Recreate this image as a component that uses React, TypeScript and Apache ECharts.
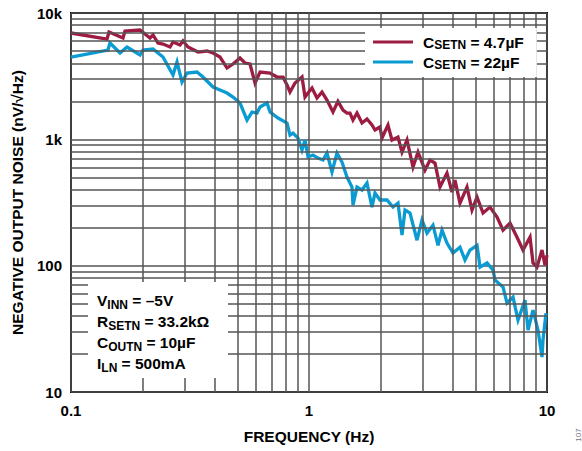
import React, { useEffect, useRef } from "react";
import * as echarts from "echarts";

// Frequency (Hz) and noise (nV/√Hz)
const redFreq = [
  0.1, 0.1417, 0.1444, 0.1654, 0.1686, 0.195, 0.2147, 0.2211, 0.232, 0.2435,
  0.2606, 0.2683, 0.2871, 0.2955, 0.3101, 0.3417, 0.3727, 0.3951, 0.4227, 0.4524,
  0.4794, 0.513, 0.5384, 0.5651, 0.5932, 0.6227, 0.6859, 0.7339, 0.7779, 0.8084,
  0.8322, 0.8735, 0.9346, 0.9621, 0.9904, 1.0294, 1.0804, 1.1339, 1.1901, 1.2612,
  1.3235, 1.3894, 1.4442, 1.4867, 1.5305, 1.5909, 1.6696, 1.7524, 1.8392, 1.8933,
  1.9872, 2.026, 2.1473, 2.232, 2.3653, 2.4591, 2.5809, 2.7353, 2.8711, 3.0721,
  3.2241, 3.3838, 3.5514, 3.7996, 3.9878, 4.1053, 4.3092, 4.6112, 4.8397, 5.0816,
  5.3852, 5.7624, 6.1663, 6.5348, 6.9923, 7.4823, 7.9296, 8.4854, 8.7352, 9.0782,
  9.5282, 9.8084, 10,
];
const redNoise = [
  6945, 6225, 7073, 6340, 7203, 7335, 6340, 6697, 5787, 5682,
  5380, 5895, 5580, 6003, 5380, 4911, 5001, 4823, 4484, 3668,
  3946, 4403, 4019, 3950, 2791, 3410, 3349, 3113, 3113, 2691,
  2369, 2791, 3113, 2162, 2326, 2548, 2123, 2369, 2047, 1645,
  2000, 1706, 1615, 1615, 1421, 1615, 1346, 1450, 1298, 1185,
  1252, 1024, 1298, 987, 1043, 793, 987, 604, 793, 571,
  686, 649, 419, 541, 383, 476, 313, 419, 276, 349,
  261, 291, 243, 191, 217, 168, 133, 168, 105, 97.5,
  133, 101, 121,
];

const blueFreq = [
  0.1, 0.143, 0.1458, 0.1607, 0.1719, 0.195, 0.2007, 0.2211, 0.2435, 0.2683,
  0.2789, 0.2927, 0.3072, 0.3383, 0.3585, 0.3951, 0.4227, 0.4524, 0.4794, 0.513,
  0.5489, 0.5762, 0.6048, 0.6227, 0.6663, 0.6859, 0.741, 0.8084, 0.8322, 0.8567,
  0.8992, 0.9346, 0.9621, 0.9904, 1.0394, 1.0909, 1.1449, 1.1901, 1.2491, 1.3107,
  1.3759, 1.4442, 1.5158, 1.5305, 1.5909, 1.6696, 1.7524, 1.8392, 1.8933, 1.9872,
  2.1266, 2.2536, 2.3653, 2.4591, 2.5314, 2.6571, 2.8434, 2.9842, 3.1321, 3.3189,
  3.4834, 3.6209, 3.7996, 4.0266, 4.3092, 4.5228, 4.7469, 5.0816, 5.2311, 5.5976,
  5.932, 6.048, 6.5348, 6.7924, 7.1982, 7.5551, 8.0846, 8.3227, 8.7352, 9.1665,
  9.5282, 9.6207, 9.9037,
];
const blueNoise = [
  4484, 5093, 5787, 4823, 5380, 4650, 5093, 5188, 4484, 3229,
  4093, 2842, 3349, 3410, 3113, 2595, 2457, 2326, 2162, 1938,
  1421, 1645, 1615, 1802, 1938, 1645, 1474, 1346, 1081, 1122,
  1024, 823, 987, 724, 751, 711, 686, 779, 551, 779,
  661, 503, 419, 302, 419, 397, 451, 291, 376, 331,
  331, 291, 313, 175, 276, 261, 159, 230, 181, 209,
  145, 191, 151, 126, 140, 111, 133, 145, 97.5, 105,
  92.3, 76.9, 67.7, 50.6, 56.4, 37.1, 53.4, 30.9, 44.5, 30.9,
  18.9, 25.8, 42.1,
];

const minorFreqTicks = [0.2, 0.3, 0.4, 0.5, 0.6, 0.7, 0.8, 0.9, 2, 3, 4, 5, 6, 7, 8, 9];
const minorNoiseTicks = [
  20, 30, 40, 50, 60, 70, 80, 90,
  200, 300, 400, 500, 600, 700, 800, 900,
  2000, 3000, 4000, 5000, 6000, 7000, 8000, 9000,
];

const seriesNames = ["CSETN = 4.7µF", "CSETN = 22µF"];
const legendRich = [
  "{g|C}{s|SETN}{a| = 4.7µF}",
  "{g|C}{s|SETN}{a| = 22µF}",
];
const conditionLines = [
  "{a|V}{s|INN}{a| = –5V}",
  "{a|R}{s|SETN}{a| = 33.2kΩ}",
  "{a|C}{s|OUTN}{a| = 10µF}",
  "{a|I}{s|LN}{a| = 500mA}",
];

const FONT = "'Liberation Sans', Arial, Helvetica, sans-serif";
const RED = "#9d1c42";
const BLUE = "#0b9bd3";
const GRID = "#555555";

export default function App() {
  const ref = useRef<HTMLDivElement>(null);
  useEffect(() => {
    document.body.style.margin = "0";
    const chart = echarts.init(ref.current!, null, { renderer: "svg" });
    const zip = (a: number[], b: number[]) => a.map((v, i) => [v, b[i]]);
    const richMain = { fontSize: 15.5, fontWeight: "bold", fontFamily: FONT, color: "#000", lineHeight: 21 };
    const richSub = { fontSize: 12, fontWeight: "bold", fontFamily: FONT, color: "#000", lineHeight: 11, verticalAlign: "bottom" };
    chart.setOption({
      animation: false,
      grid: {
        left: 71, right: 35, top: 13, bottom: 59,
        show: true, borderColor: "#000", borderWidth: 2, backgroundColor: "#fff",
      },
      xAxis: {
        type: "log", logBase: 10, min: 0.1, max: 10,
        name: "FREQUENCY (Hz)", nameLocation: "middle", nameGap: 36,
        nameTextStyle: { fontSize: 15.5, fontWeight: "bold", fontFamily: FONT, color: "#000" },
        axisLine: { show: false }, axisTick: { show: false },
        axisLabel: {
          fontSize: 15, fontWeight: "bold", fontFamily: FONT, color: "#000", margin: 11,
          formatter: (v: number) => String(Number(v.toPrecision(3))),
        },
        splitLine: { show: true, lineStyle: { color: GRID, width: 1.5 } },
      },
      yAxis: {
        type: "log", logBase: 10, min: 10, max: 10000,
        name: "NEGATIVE OUTPUT NOISE (nV/√Hz)", nameLocation: "middle", nameGap: 46,
        nameTextStyle: { fontSize: 15.5, fontWeight: "bold", fontFamily: FONT, color: "#000" },
        axisLine: { show: false }, axisTick: { show: false },
        axisLabel: {
          fontSize: 15, fontWeight: "bold", fontFamily: FONT, color: "#000", margin: 9,
          formatter: (v: number) => {
            const r = Number(v.toPrecision(3));
            return r >= 1000 ? r / 1000 + "k" : String(r);
          },
        },
        splitLine: { show: true, lineStyle: { color: GRID, width: 1.5 } },
      },
      legend: {
        data: seriesNames,
        orient: "vertical", left: 365, top: 28,
        backgroundColor: "#fff", padding: [6, 13, 6, 8], itemGap: 3,
        itemWidth: 40, itemHeight: 3, icon: "rect", z: 10,
        formatter: (name: string) => legendRich[seriesNames.indexOf(name)],
        textStyle: {
          rich: {
            g: { ...richMain, lineHeight: 18, padding: [0, 0, 0, 5] },
            a: { ...richMain, lineHeight: 18 },
            s: { ...richSub, lineHeight: 10 },
          },
        },
      },
      series: [
        {
          type: "line", name: "minor-grid", data: [], z: 1, silent: true,
          markLine: {
            silent: true, symbol: ["none", "none"], label: { show: false },
            lineStyle: { color: GRID, width: 1.5, type: "solid" },
            data: [
              ...minorFreqTicks.map((v) => ({ xAxis: v })),
              ...minorNoiseTicks.map((v) => ({ yAxis: v })),
            ],
          },
        },
        {
          type: "line", name: seriesNames[0], data: zip(redFreq, redNoise), z: 3,
          showSymbol: false, symbol: "none", color: RED,
          lineStyle: { color: RED, width: 3.3, join: "miter" },
        },
        {
          type: "line", name: seriesNames[1], data: zip(blueFreq, blueNoise), z: 3,
          showSymbol: false, symbol: "none", color: BLUE,
          lineStyle: { color: BLUE, width: 3.3, join: "miter" },
        },
      ],
      graphic: [
        {
          type: "rect", z: 100,
          shape: { x: 88, y: 282, width: 140, height: 96 },
          style: { fill: "#fff" },
        },
        {
          type: "text", z: 101, x: 97, y: 289.5,
          style: {
            text: conditionLines.join("\n"),
            rich: { a: richMain, s: richSub },
          },
        },
        {
          type: "text", z: 101, x: 578, y: 435, rotation: Math.PI / 2,
          style: {
            text: "107", fontSize: 8, fontFamily: FONT, fill: "#777",
            align: "center", verticalAlign: "middle",
          },
        },
      ],
    });
    return () => chart.dispose();
  }, []);
  return <div ref={ref} style={{ width: 582, height: 451 }} />;
}
